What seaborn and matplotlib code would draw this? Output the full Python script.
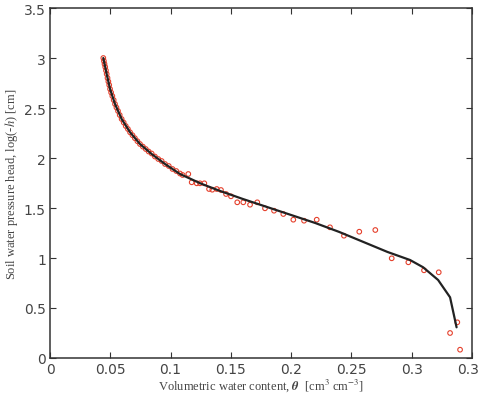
import matplotlib
matplotlib.use("Agg")
import matplotlib.pyplot as plt
import numpy as np
import pandas as pd
import seaborn as sns

# observed retention data (theta, log(-h))
theta_obs = [
    0.0442, 0.0447, 0.0452, 0.0458, 0.0464, 0.0470, 0.0477, 0.0484, 0.0491, 0.0498,
    0.0507, 0.0517, 0.0528, 0.0539, 0.0551, 0.0564, 0.0578, 0.0594, 0.0611, 0.0628,
    0.0646, 0.0664, 0.0684, 0.0704, 0.0725, 0.0746, 0.0770, 0.0794, 0.0818, 0.0843,
    0.0870, 0.0898, 0.0926, 0.0954, 0.0985, 0.1016, 0.1047, 0.1078, 0.1100,
    0.1147, 0.1175, 0.1217, 0.1244, 0.1280, 0.1319, 0.1346, 0.1383, 0.1418, 0.1460,
    0.1501, 0.1553, 0.1603, 0.1659, 0.1719, 0.1783, 0.1858, 0.1935, 0.2018, 0.2107,
    0.2212, 0.2322, 0.2438, 0.2565, 0.2698, 0.2834, 0.2972, 0.3102, 0.3224, 0.3378,
    0.3318, 0.3401,
]
logh_obs = [
    3.00, 2.97, 2.94, 2.91, 2.875, 2.84, 2.80, 2.765, 2.73, 2.69,
    2.655, 2.62, 2.58, 2.54, 2.505, 2.47, 2.43, 2.39, 2.355, 2.32,
    2.29, 2.257, 2.228, 2.198, 2.168, 2.14, 2.114, 2.09, 2.065, 2.045,
    2.015, 1.99, 1.97, 1.94, 1.92, 1.89, 1.87, 1.845, 1.83,
    1.84, 1.757, 1.747, 1.747, 1.747, 1.69, 1.683, 1.69, 1.68, 1.64,
    1.617, 1.557, 1.557, 1.533, 1.557, 1.497, 1.473, 1.44, 1.383, 1.373,
    1.383, 1.307, 1.223, 1.263, 1.28, 0.997, 0.957, 0.877, 0.857, 0.357,
    0.25, 0.083,
]

# fitted curve
theta_fit = [
    0.0442, 0.0470, 0.0498, 0.0539, 0.0594, 0.0664, 0.0746, 0.0843, 0.0954, 0.1078,
    0.1250, 0.1400, 0.1600, 0.1800, 0.2000, 0.2200, 0.2400, 0.2600, 0.2800, 0.2986,
    0.3095, 0.3219, 0.3318, 0.3372,
]
logh_fit = [
    3.00, 2.84, 2.69, 2.54, 2.39, 2.257, 2.14, 2.04, 1.94, 1.84,
    1.745, 1.675, 1.59, 1.51, 1.43, 1.35, 1.26, 1.16, 1.06, 0.98,
    0.907, 0.78, 0.607, 0.307,
]

obs = pd.DataFrame({"theta": theta_obs, "logh": logh_obs})
fit = pd.DataFrame({"theta": theta_fit, "logh": logh_fit})

sns.set_style("ticks")
plt.rcParams["mathtext.fontset"] = "stix"
plt.rcParams["font.family"] = ["Liberation Sans Narrow", "DejaVu Sans"]

fig = plt.figure(figsize=(4.79, 4.10), dpi=100)
ax = fig.add_axes([0.1044, 0.1244, 0.8810, 0.8536])

sns.scatterplot(data=obs, x="theta", y="logh", ax=ax, marker="o", s=11,
                facecolor="none", edgecolor="#e5412d", linewidth=0.8, zorder=2)
sns.lineplot(data=fit, x="theta", y="logh", ax=ax, sort=False, estimator=None,
             color="#222222", linewidth=1.6, zorder=3)

ax.set_xlim(0, 0.35)
ax.set_ylim(0, 3.5)
ax.set_xticks(np.arange(0, 0.351, 0.05))
ax.set_yticks(np.arange(0, 3.51, 0.5))
ax.set_xticklabels(["0", "0.05", "0.1", "0.15", "0.2", "0.25", "0.3", "0.35"])
ax.set_yticklabels(["0", "0.5", "1", "1.5", "2", "2.5", "3", "3.5"])
ax.tick_params(direction="in", length=4.5, width=0.8, color="#333333",
               top=True, right=True, labelsize=10, pad=3, labelcolor="#444444")

for sp in ax.spines.values():
    sp.set_linewidth(1.1)
    sp.set_color("#333333")

ax.set_xlabel(r"Volumetric water content, $\mathbfit{\theta}$  [cm$^{3}$ cm$^{-3}$]",
              family="Liberation Serif", fontsize=9, color="#444444", labelpad=0)
ax.set_ylabel(r"Soil water pressure head, log(-$h$) [cm]",
              family="Liberation Serif", fontsize=9, color="#444444", labelpad=3)

fig.savefig("out.png", dpi=100)
